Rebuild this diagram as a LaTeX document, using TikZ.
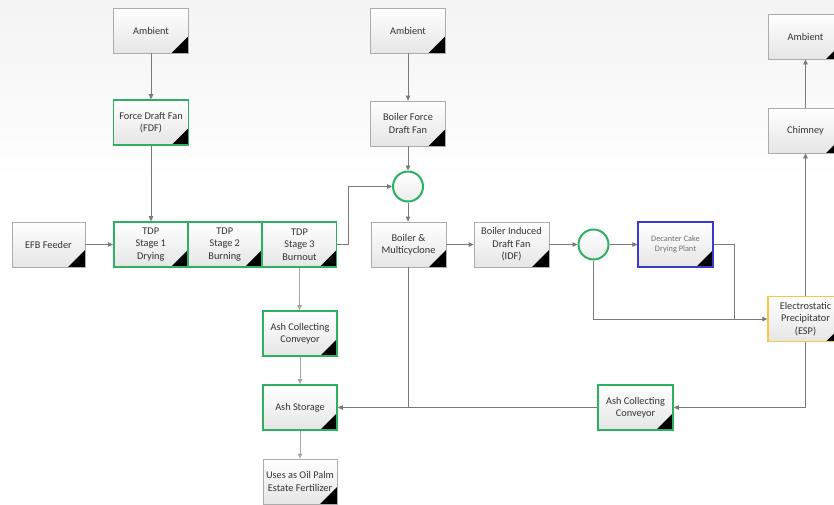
\documentclass[tikz,border=0pt]{standalone}
\usepackage{fontspec}
\setmainfont{Carlito}
\usetikzlibrary{arrows.meta}
\definecolor{boxgreen}{HTML}{2EB062}
\definecolor{boxblue}{HTML}{3A3AD2}
\definecolor{boxyellow}{HTML}{F5C64A}
\definecolor{wire}{HTML}{7A7A7A}
\definecolor{lightwire}{HTML}{A8A8A8}
\definecolor{txt}{HTML}{333333}
\tikzset{
  blk/.style={draw=gray!65, line width=0.8pt, top color=white, bottom color=gray!20,
    minimum width=75pt, minimum height=45pt, inner sep=1pt, align=center,
    text=txt, font=\fontsize{10.3}{12.4}\selectfont,
    path picture={\fill[black] (path picture bounding box.south east) -- ++(-17pt,0pt) -- ++(17pt,17pt) -- cycle;}},
  grn/.style={blk, draw=boxgreen, line width=1.6pt},
  blu/.style={blk, draw=boxblue, line width=1.4pt},
  ylw/.style={blk, draw=boxyellow, line width=1.4pt},
  junc/.style={circle, draw=boxgreen, line width=2pt, top color=white, bottom color=gray!15, minimum size=30pt, inner sep=0pt},
  flow/.style={draw=wire, line width=0.8pt, -{Triangle[length=5pt,width=4.5pt]}},
  lflow/.style={draw=lightwire, line width=0.8pt, -{Triangle[length=5pt,width=4.5pt]}},
  plain/.style={draw=wire, line width=0.8pt},
}
\begin{document}
\begin{tikzpicture}[x=1pt,y=-1pt]
\useasboundingbox (0,0) rectangle (834,504);
\clip (0,0) rectangle (834,504);
% faint backdrop
\fill[white] (0,0) rectangle (834,504);
\shade[top color=gray!9, bottom color=white] (0,0) rectangle (834,180);

% left column: fan and thermal decomposition stages
\node[blk] (amb1) at (151,30.5) {Ambient};
\node[grn] (fdf) at (151,122.5) {Force Draft Fan\\(FDF)};
\node[blk, minimum width=73pt] (efb) at (48.5,244.5) {EFB Feeder};
\node[grn, minimum width=74pt] (s1) at (150.75,244.5) {TDP\\Stage 1\\Drying};
\node[grn, minimum width=74pt] (s2) at (224.75,244.5) {TDP\\Stage 2\\Burning};
\node[grn, minimum width=74pt] (s3) at (299.5,244.5) {TDP\\Stage 3\\Burnout};
\node[grn, minimum width=74pt] (acc1) at (300,333.5) {Ash Collecting\\Conveyor};
\node[grn, minimum width=74pt] (ash) at (300,407.5) {Ash Storage};
\node[blk, minimum width=74pt] (uses) at (300,481.5) {Uses as Oil Palm\\Estate Fertilizer};

% boiler line
\node[blk] (amb2) at (408,30.5) {Ambient};
\node[blk] (bfdf) at (408,123.5) {Boiler Force\\Draft Fan};
\node[junc] (j1) at (408,186.5) {};
\node[blk] (boiler) at (408.5,244.5) {Boiler \&\\Multicyclone};
\node[blk] (idf) at (511.5,244.5) {Boiler Induced\\Draft Fan\\(IDF)};
\node[junc] (j2) at (593.5,244.5) {};
\node[blu, font=\fontsize{8.3}{10}\selectfont, text=gray!90!black] (dcp) at (675.5,244.5) {Decanter Cake\\Drying Plant};

% gas cleaning and exhaust
\node[ylw] (esp) at (805.5,319) {Electrostatic\\Precipitator\\(ESP)};
\node[blk] (chim) at (805.5,130.5) {Chimney};
\node[blk] (amb3) at (805.5,36.5) {Ambient};
\node[grn] (acc2) at (635.5,407.5) {Ash Collecting\\Conveyor};

% air and flue gas connections
\draw[flow] (amb1) -- (fdf);
\draw[flow] (fdf.south) -- (fdf.south |- s1.north);
\draw[flow] (efb) -- (s1);
\draw[flow] (s3.east) -- ++(11,0) |- (j1.west);
\draw[flow] (amb2) -- (bfdf);
\draw[flow] (bfdf) -- (j1);
\draw[flow] (j1.south) -- (j1.south |- boiler.north);
\draw[flow] (boiler) -- (idf);
\draw[flow] (idf) -- (j2);
\draw[flow] (j2) -- (dcp);
\coordinate (dmerge) at (734,319);
\draw[plain] (dcp.east) -| (dmerge);
\draw[flow] (j2.south) |- (esp.west);
\draw[flow] (esp) -- (chim);
\draw[flow] (chim) -- (amb3);

% ash handling
\draw[lflow] (s3.south) -- (s3.south |- acc1.north);
\draw[lflow] (acc1) -- (ash);
\draw[lflow] (ash) -- (uses);
\draw[flow] (esp.south) |- (acc2.east);
\draw[plain] (boiler.south) -- (boiler.south |- ash.east);
\draw[flow] (acc2.west) -- (ash.east);
\end{tikzpicture}
\end{document}
